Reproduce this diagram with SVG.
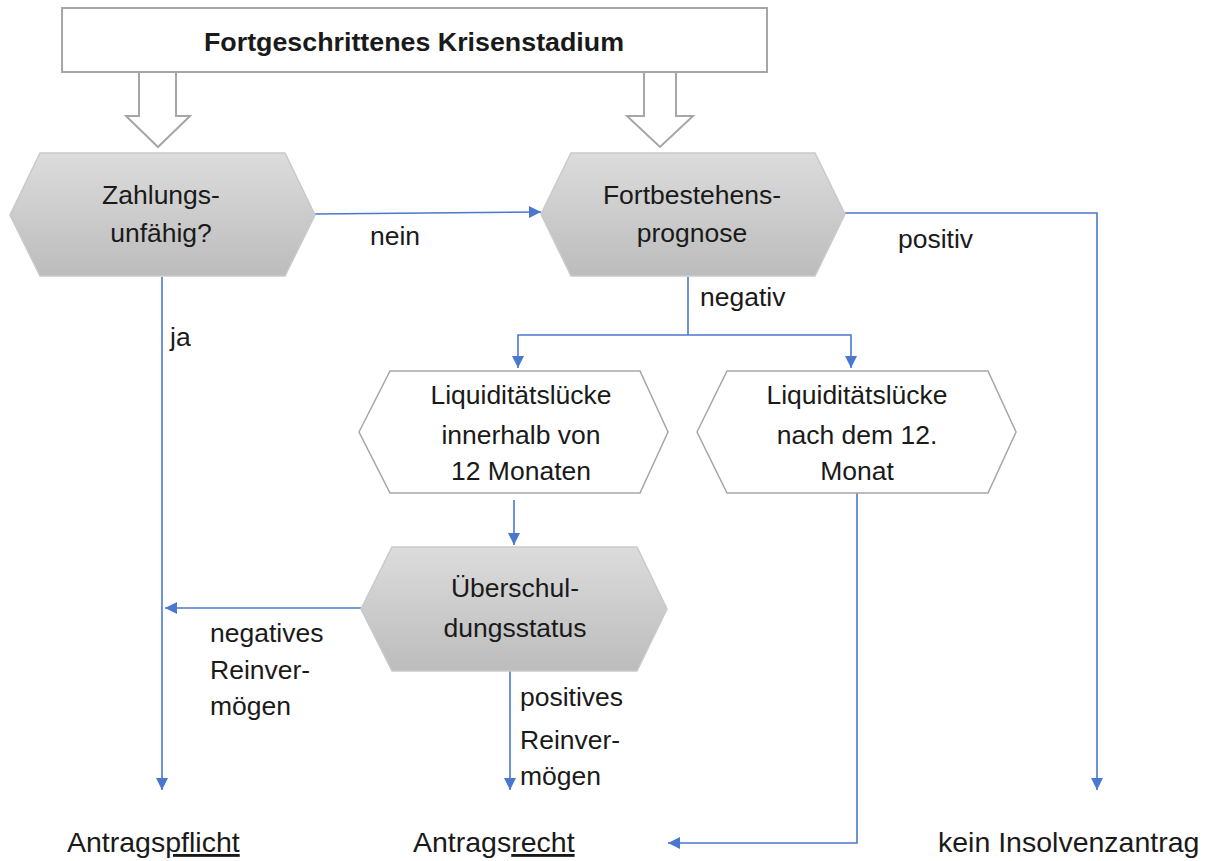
<svg xmlns="http://www.w3.org/2000/svg" width="1207" height="861" viewBox="0 0 1207 861">
<style>
text{font-family:"Liberation Sans",Arial,sans-serif;font-size:26.5px;fill:#1a1a1a}
.c{text-anchor:middle}
.title{font-weight:bold;font-size:25.5px}
.bot{font-size:28.5px}
.gray{fill:url(#g);stroke:#c9c9c9;stroke-width:1.5}
.white{fill:#fff;stroke:#a6a6a6;stroke-width:1.5}
.block{fill:#fff;stroke:#a6a6a6;stroke-width:2}
.con{fill:none;stroke:#4a78cf;stroke-width:1.6}
</style>
<defs>
<linearGradient id="g" x1="0" y1="0" x2="0" y2="1">
<stop offset="0" stop-color="#dcdcdc"/>
<stop offset="1" stop-color="#bcbcbc"/>
</linearGradient>
<marker id="a" viewBox="0 0 12 12" refX="12" refY="6" markerWidth="12" markerHeight="12" markerUnits="userSpaceOnUse" orient="auto" overflow="visible">
<path d="M0,0 L12,6 L0,12 z" fill="#4a78cf"/>
</marker>
</defs>
<rect width="1207" height="861" fill="#fff"/>

<g id="top">
<rect x="62" y="8" width="705" height="64" fill="#fff" stroke="#a6a6a6" stroke-width="2"/>
<text class="c title" x="414" y="51" textLength="420" lengthAdjust="spacingAndGlyphs">Fortgeschrittenes Krisenstadium</text>
</g>
<g id="blockarrows">
<polygon class="block" points="139,72 139,116 126,116 158,147 190,116 176,116 176,72"/>
<polygon class="block" points="644,72 644,116 627,116 660,147 693,116 676,116 676,72"/>
</g>

<g id="connectors">
<path class="con" d="M315,214 L541,212" marker-end="url(#a)"/>
<path class="con" d="M845,213 L1097,213 L1097,790" marker-end="url(#a)"/>
<path class="con" d="M688,277 L688,335"/>
<path class="con" d="M688,335 L518,335 L518,368" marker-end="url(#a)"/>
<path class="con" d="M688,335 L851,335 L851,368" marker-end="url(#a)"/>
<path class="con" d="M514,500 L514,545" marker-end="url(#a)"/>
<path class="con" d="M361,608 L165,608" marker-end="url(#a)"/>
<path class="con" d="M162,277 L162,790" marker-end="url(#a)"/>
<path class="con" d="M510,671 L510,790" marker-end="url(#a)"/>
<path class="con" d="M857,493 L857,843 L668,843" marker-end="url(#a)"/>
</g>

<g id="labels">
<text x="370" y="245">nein</text>
<text x="898" y="248">positiv</text>
<text x="700" y="306">negativ</text>
<text x="170" y="346">ja</text>
<text x="210" y="642">negatives</text>
<text x="210" y="679">Reinver-</text>
<text x="210" y="715">mögen</text>
<text x="520" y="706">positives</text>
<text x="520" y="749">Reinver-</text>
<text x="520" y="785">mögen</text>
</g>

<g id="zahlungsunfaehig">
<polygon class="gray" points="10,215 40,153 285,153 315,215 285,276 40,276"/>
<text class="c" x="161" y="204">Zahlungs-</text>
<text class="c" x="161" y="242">unfähig?</text>
</g>
<g id="fortbestehensprognose">
<polygon class="gray" points="541,214 571,153 815,153 845,214 815,276 571,276"/>
<text class="c" x="692" y="204">Fortbestehens-</text>
<text class="c" x="692" y="242">prognose</text>
</g>
<g id="luecke12">
<polygon class="white" points="359,432 390,371 640,371 668,432 640,493 390,493"/>
<text class="c" x="521" y="404">Liquiditätslücke</text>
<text class="c" x="521" y="444">innerhalb von</text>
<text class="c" x="521" y="480">12 Monaten</text>
</g>
<g id="lueckenach">
<polygon class="white" points="697,432 727,371 988,371 1016,432 988,493 727,493"/>
<text class="c" x="857" y="404">Liquiditätslücke</text>
<text class="c" x="857" y="444">nach dem 12.</text>
<text class="c" x="857" y="480">Monat</text>
</g>
<g id="ueberschuldung">
<polygon class="gray" points="361,609 392,547 637,547 667,609 637,671 392,671"/>
<text class="c" x="515" y="597">Überschul-</text>
<text class="c" x="515" y="637">dungsstatus</text>
</g>

<g id="antragspflicht">
<text class="bot" x="67" y="852">Antrags<tspan text-decoration="underline">pflicht</tspan></text>
</g>
<g id="antragsrecht">
<text class="bot" x="413" y="852">Antrags<tspan text-decoration="underline">recht</tspan></text>
</g>
<g id="keinantrag">
<text class="bot" x="938" y="852">kein Insolvenzantrag</text>
</g>
</svg>
